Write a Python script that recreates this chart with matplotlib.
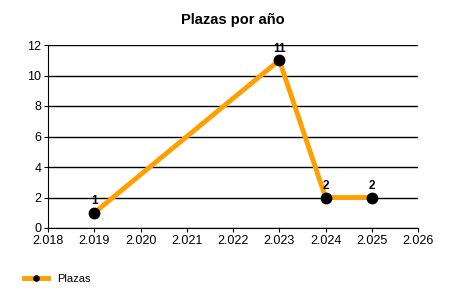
import matplotlib

matplotlib.use("Agg")
import matplotlib.pyplot as plt
from matplotlib.ticker import FuncFormatter, MultipleLocator

years = [2019, 2023, 2024, 2025]
plazas = [1, 11, 2, 2]
series_name = "Plazas"
title = "Plazas por año"

ORANGE = "#FFA000"

plt.rcParams["font.family"] = ["Liberation Sans", "DejaVu Sans"]

fig = plt.figure(figsize=(4.5, 3.0), dpi=100)
ax = fig.add_axes([0.107, 0.24, 0.822, 0.61])

ax.plot(years, plazas, color=ORANGE, lw=3.5, marker="o", markersize=7.5,
        markerfacecolor="black", markeredgecolor="black", label=series_name,
        solid_joinstyle="miter", zorder=3)
for x, y in zip(years, plazas):
    ax.annotate(str(y), (x, y), xytext=(0, 4), textcoords="offset points",
                ha="center", va="bottom", fontsize=8.5, fontweight="bold")

ax.set_xlim(2018, 2026)
ax.set_ylim(0, 12)
ax.xaxis.set_major_locator(MultipleLocator(1))
ax.yaxis.set_major_locator(MultipleLocator(2))
ax.xaxis.set_major_formatter(FuncFormatter(lambda v, p: f"{int(v):,}".replace(",", ".")))
ax.yaxis.grid(True, color="black", lw=1)
ax.xaxis.grid(False)
ax.set_axisbelow(True)
for s in ("top", "right"):
    ax.spines[s].set_visible(False)
ax.tick_params(labelsize=9, length=3, color="black", pad=2)

ax.set_title(title, fontsize=10.5, fontweight="bold", pad=15)

fig.legend(loc="lower left", bbox_to_anchor=(0.03, 0.02), frameon=False,
           fontsize=8, handlelength=2.2, markerscale=0.5)

fig.savefig("out.png", dpi=100, facecolor="white")
